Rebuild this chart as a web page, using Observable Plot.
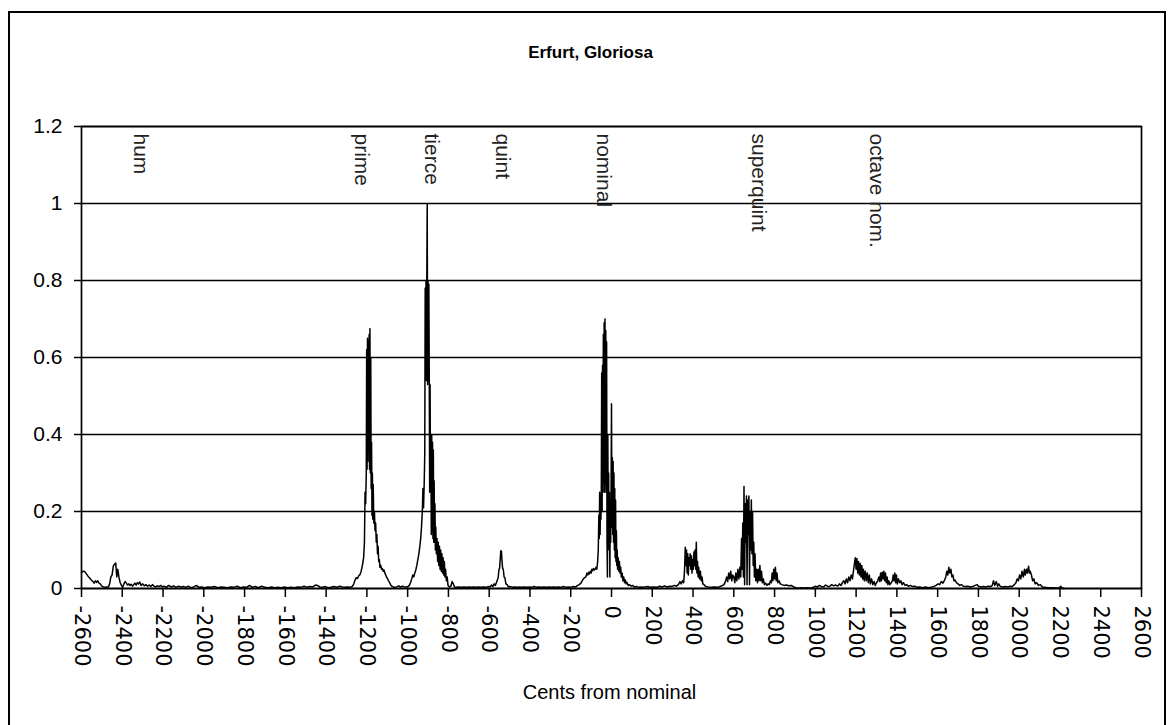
<!DOCTYPE html>
<html><head><meta charset="utf-8">
<script src="https://cdn.jsdelivr.net/npm/d3@7"></script>
<script src="https://cdn.jsdelivr.net/npm/@observablehq/plot@0.6"></script>
<style>
body{margin:0;background:#fff;}
#wrap{position:relative;width:1168px;height:725px;overflow:hidden;background:#fff;}
#wrap svg{position:absolute;left:0;top:0;}
#border{position:absolute;left:8px;top:11px;width:1158px;height:720px;border:2px solid #000;box-sizing:border-box;pointer-events:none;}
</style></head><body><div id="wrap"><div id="border"></div></div>
<script>
const title = "Erfurt, Gloriosa";
const xLabel = "Cents from nominal";
const xTicks = [-2600,-2400,-2200,-2000,-1800,-1600,-1400,-1200,-1000,-800,-600,-400,-200,0,200,400,600,800,1000,1200,1400,1600,1800,2000,2200,2400,2600];
const yTicks = [0,0.2,0.4,0.6,0.8,1,1.2];
const partialNames = ["hum","prime","tierce","quint","nominal","superquint","octave nom."];
const partialAt = [-2311,-1224,-883,-535,-39,721,1300];

// [cents, relative amplitude]
const hum = [[-2600,0.042],[-2592,0.045],[-2584,0.044],[-2576,0.038],[-2568,0.032],[-2560,0.027],[-2552,0.022],[-2544,0.018],[-2538,0.014],[-2532,0.02],[-2526,0.016],[-2520,0.02],[-2514,0.014],[-2508,0.012],[-2500,0.006],[-2492,0.004],[-2484,0.003],[-2476,0.004],[-2468,0.004],[-2462,0.012],[-2456,0.03],[-2450,0.035],[-2444,0.058],[-2438,0.063],[-2432,0.066],[-2427,0.03],[-2422,0.05],[-2416,0.028],[-2410,0.015],[-2404,0.008],[-2398,0.003],[-2392,0.012],[-2386,0.018],[-2380,0.014],[-2374,0.009],[-2368,0.012],[-2362,0.008],[-2356,0.011],[-2350,0.006],[-2344,0.01],[-2338,0.014],[-2332,0.009],[-2326,0.015],[-2320,0.012],[-2314,0.017],[-2308,0.008],[-2300,0.012],[-2292,0.007],[-2284,0.01],[-2276,0.006],[-2268,0.009],[-2260,0.005],[-2252,0.01],[-2244,0.006],[-2236,0.004],[-2228,0.007],[-2220,0.005],[-2212,0.008],[-2204,0.004]];
const low = [[-2196,0.006],[-2184,0.003],[-2172,0.008],[-2160,0.004],[-2148,0.007],[-2136,0.003],[-2124,0.006],[-2112,0.004],[-2100,0.005],[-2088,0.003],[-2076,0.006],[-2064,0.002],[-2050,0.004],[-2036,0.008],[-2024,0.003],[-2010,0.004],[-1996,0.002],[-1980,0.004],[-1964,0.003],[-1948,0.005],[-1932,0.002],[-1916,0.004],[-1900,0.003],[-1884,0.002],[-1868,0.004],[-1852,0.003],[-1836,0.006],[-1822,0.002],[-1806,0.004],[-1790,0.003],[-1776,0.008],[-1762,0.003],[-1748,0.005],[-1732,0.002],[-1716,0.006],[-1700,0.003],[-1684,0.002],[-1668,0.004],[-1652,0.002],[-1636,0.003],[-1620,0.002],[-1604,0.004],[-1588,0.002],[-1572,0.003],[-1556,0.002],[-1540,0.004],[-1524,0.003],[-1508,0.006],[-1494,0.003],[-1480,0.005],[-1466,0.004],[-1452,0.009],[-1442,0.008],[-1432,0.004],[-1418,0.003],[-1404,0.005],[-1390,0.002],[-1376,0.003],[-1362,0.005],[-1348,0.003],[-1334,0.006],[-1320,0.004],[-1308,0.003]];
const prime = [[-1296,0.004],[-1284,0.003],[-1272,0.005],[-1264,0.012],[-1258,0.022],[-1252,0.028],[-1246,0.026],[-1240,0.033],[-1234,0.036],[-1228,0.045],[-1222,0.06],[-1216,0.08],[-1212,0.12],[-1209,0.25],[-1206,0.22],[-1203,0.30],[-1201,0.62],[-1199,0.31],[-1197,0.65],[-1195,0.33],[-1193,0.64],[-1191,0.36],[-1189,0.66],[-1187,0.31],[-1185,0.675],[-1183,0.30],[-1181,0.60],[-1179,0.26],[-1177,0.38],[-1175,0.19],[-1173,0.30],[-1171,0.18],[-1169,0.27],[-1166,0.17],[-1163,0.20],[-1160,0.15],[-1157,0.17],[-1154,0.12],[-1151,0.14],[-1148,0.09],[-1145,0.11],[-1142,0.07],[-1139,0.075],[-1136,0.055],[-1132,0.06],[-1128,0.05],[-1124,0.052],[-1120,0.045],[-1116,0.048],[-1112,0.04],[-1108,0.036],[-1104,0.03],[-1099,0.026],[-1094,0.02],[-1089,0.016],[-1084,0.01],[-1076,0.005],[-1066,0.003],[-1054,0.004],[-1044,0.007],[-1036,0.004],[-1024,0.006],[-1012,0.003],[-1004,0.005]];
const tierce = [[-1000,0.004],[-992,0.008],[-986,0.015],[-980,0.025],[-975,0.035],[-970,0.03],[-965,0.04],[-960,0.048],[-955,0.06],[-950,0.075],[-945,0.09],[-940,0.11],[-936,0.13],[-932,0.16],[-928,0.20],[-925,0.26],[-922,0.21],[-919,0.27],[-916,0.35],[-914,0.78],[-912,0.56],[-910,0.80],[-908,0.54],[-906,0.81],[-904,1.0],[-902,0.53],[-900,0.80],[-898,0.54],[-896,0.79],[-894,0.55],[-892,0.25],[-890,0.53],[-888,0.27],[-886,0.40],[-884,0.14],[-882,0.40],[-880,0.15],[-878,0.38],[-876,0.13],[-874,0.36],[-872,0.12],[-870,0.28],[-868,0.12],[-866,0.22],[-864,0.10],[-862,0.16],[-859,0.09],[-856,0.13],[-853,0.07],[-850,0.12],[-847,0.06],[-844,0.11],[-841,0.05],[-838,0.10],[-835,0.045],[-832,0.09],[-829,0.04],[-826,0.08],[-823,0.035],[-820,0.07],[-817,0.03],[-814,0.05],[-810,0.02],[-806,0.03],[-802,0.008],[-795,0.004],[-788,0.006],[-782,0.018],[-776,0.012],[-770,0.004]];
const quint = [[-760,0.003],[-748,0.004],[-736,0.003],[-724,0.004],[-712,0.003],[-700,0.004],[-688,0.003],[-676,0.004],[-664,0.003],[-652,0.004],[-640,0.003],[-628,0.004],[-616,0.003],[-604,0.005],[-596,0.004],[-588,0.009],[-582,0.005],[-576,0.012],[-570,0.008],[-565,0.015],[-560,0.022],[-556,0.028],[-552,0.05],[-549,0.052],[-546,0.075],[-543,0.098],[-540,0.097],[-537,0.07],[-534,0.052],[-531,0.05],[-527,0.03],[-523,0.028],[-518,0.012],[-512,0.01],[-506,0.004],[-498,0.005],[-486,0.003],[-474,0.004],[-462,0.003],[-450,0.004]];
const nominal = [[-440,0.003],[-428,0.004],[-416,0.003],[-404,0.004],[-392,0.003],[-380,0.005],[-368,0.003],[-356,0.004],[-344,0.003],[-332,0.004],[-320,0.003],[-308,0.004],[-296,0.003],[-284,0.004],[-272,0.003],[-260,0.004],[-248,0.003],[-236,0.005],[-224,0.003],[-212,0.004],[-200,0.003],[-188,0.005],[-176,0.004],[-166,0.008],[-158,0.01],[-150,0.014],[-144,0.02],[-138,0.025],[-132,0.028],[-126,0.03],[-120,0.04],[-116,0.035],[-112,0.042],[-108,0.038],[-104,0.045],[-100,0.04],[-96,0.05],[-92,0.046],[-88,0.052],[-84,0.048],[-80,0.05],[-76,0.055],[-72,0.05],[-68,0.07],[-65,0.1],[-62,0.19],[-60,0.13],[-58,0.25],[-56,0.14],[-54,0.24],[-52,0.18],[-50,0.25],[-48,0.56],[-46,0.20],[-44,0.58],[-42,0.25],[-40,0.66],[-38,0.28],[-36,0.69],[-34,0.25],[-32,0.70],[-30,0.27],[-28,0.67],[-26,0.25],[-24,0.64],[-22,0.12],[-20,0.03],[-18,0.40],[-16,0.12],[-14,0.30],[-12,0.10],[-10,0.25],[-8,0.03],[-6,0.22],[-4,0.12],[-2,0.25],[0,0.48],[2,0.16],[4,0.34],[6,0.14],[8,0.33],[10,0.12],[12,0.30],[14,0.10],[16,0.26],[18,0.08],[20,0.23],[22,0.07],[24,0.15],[26,0.06],[28,0.10],[30,0.05],[33,0.08],[36,0.045],[39,0.07],[42,0.04],[45,0.055],[48,0.03],[52,0.04],[56,0.02],[60,0.03],[64,0.015],[68,0.022],[72,0.012],[76,0.016],[82,0.008],[88,0.01],[96,0.006],[104,0.008],[112,0.004],[122,0.005],[134,0.003],[146,0.004]];
const upper = [[160,0.003],[176,0.005],[190,0.003],[206,0.004],[222,0.003],[236,0.006],[248,0.004],[260,0.007],[272,0.004],[284,0.006],[296,0.005],[308,0.008],[318,0.006],[328,0.01],[336,0.018],[342,0.012],[348,0.02],[354,0.015],[358,0.045],[362,0.107],[365,0.06],[368,0.1],[371,0.04],[374,0.09],[377,0.035],[380,0.08],[383,0.06],[386,0.09],[389,0.05],[392,0.085],[395,0.04],[398,0.075],[401,0.05],[404,0.095],[407,0.06],[410,0.10],[413,0.05],[416,0.12],[419,0.04],[422,0.07],[425,0.03],[428,0.055],[432,0.025],[436,0.045],[440,0.02],[444,0.03],[448,0.012],[454,0.01],[462,0.005],[474,0.004],[490,0.003],[506,0.004],[522,0.003],[536,0.006],[546,0.008],[554,0.012],[560,0.02],[565,0.03],[570,0.018],[575,0.04],[580,0.025],[585,0.045],[590,0.02],[595,0.035]];
const superquint = [[600,0.03],[605,0.015],[610,0.04],[615,0.02],[620,0.05],[625,0.025],[630,0.055],[634,0.03],[638,0.13],[641,0.05],[644,0.17],[647,0.03],[650,0.265],[653,0.01],[656,0.22],[659,0.12],[662,0.24],[665,0.01],[668,0.23],[671,0.14],[674,0.24],[677,0.01],[680,0.2],[683,0.1],[686,0.23],[689,0.09],[692,0.2],[695,0.06],[698,0.12],[701,0.03],[704,0.09],[708,0.02],[712,0.05],[716,0.015],[720,0.05],[724,0.02],[728,0.06],[732,0.02],[736,0.045],[740,0.015],[745,0.025],[750,0.01],[756,0.014],[762,0.008],[768,0.012],[774,0.01],[780,0.02],[784,0.015],[788,0.04],[792,0.02],[796,0.05],[800,0.025],[804,0.055],[808,0.02],[812,0.04],[816,0.015],[822,0.02],[828,0.012],[836,0.01],[846,0.008],[858,0.009],[870,0.007],[882,0.008],[894,0.004]];
const high = [[906,0.002],[920,0.001],[934,0.002],[948,0.001],[962,0.002],[976,0.001],[990,0.003],[1000,0.006],[1010,0.004],[1020,0.008],[1030,0.005],[1040,0.004],[1050,0.009],[1060,0.006],[1070,0.005],[1080,0.01],[1090,0.007],[1100,0.009],[1110,0.006],[1118,0.012],[1126,0.008],[1134,0.016],[1140,0.02],[1146,0.012],[1152,0.025],[1158,0.015],[1164,0.03],[1170,0.02],[1176,0.035],[1182,0.025],[1188,0.05],[1192,0.065],[1196,0.08],[1200,0.05],[1204,0.078],[1208,0.04],[1212,0.07],[1216,0.035],[1220,0.065],[1224,0.03],[1228,0.06],[1232,0.025],[1236,0.05],[1240,0.02],[1245,0.045],[1250,0.02],[1255,0.04],[1260,0.015],[1265,0.035],[1270,0.012],[1276,0.025],[1282,0.01],[1288,0.018],[1294,0.008],[1300,0.015],[1306,0.02],[1312,0.03],[1316,0.018],[1320,0.04],[1324,0.02],[1328,0.042],[1332,0.025],[1336,0.045],[1340,0.02],[1344,0.04],[1348,0.015],[1352,0.03],[1356,0.01],[1360,0.02],[1366,0.01],[1372,0.015],[1378,0.02],[1382,0.035],[1386,0.02],[1390,0.04],[1394,0.015],[1398,0.035],[1402,0.012],[1408,0.025],[1414,0.015],[1420,0.02],[1426,0.01],[1432,0.015],[1440,0.008],[1448,0.01],[1456,0.006],[1466,0.008],[1476,0.005],[1488,0.006],[1500,0.003],[1512,0.004],[1526,0.002],[1540,0.004],[1554,0.002],[1568,0.003],[1580,0.005],[1592,0.008],[1602,0.012],[1610,0.01],[1618,0.018],[1626,0.014],[1634,0.022],[1640,0.03],[1645,0.045],[1650,0.035],[1655,0.055],[1660,0.04],[1665,0.05],[1670,0.03],[1675,0.035],[1680,0.02],[1686,0.022],[1692,0.015],[1700,0.012],[1708,0.008],[1716,0.01],[1726,0.006],[1736,0.005],[1748,0.006],[1760,0.004],[1772,0.005],[1784,0.008],[1794,0.01],[1800,0.006],[1812,0.004],[1824,0.005],[1836,0.004],[1848,0.006],[1860,0.005],[1868,0.008],[1874,0.02],[1880,0.008],[1888,0.018],[1894,0.006],[1900,0.012],[1908,0.005],[1920,0.004],[1932,0.005],[1944,0.004],[1956,0.006],[1966,0.005],[1976,0.01],[1984,0.015],[1990,0.025],[1996,0.02],[2002,0.035],[2008,0.025],[2014,0.045],[2020,0.03],[2026,0.05],[2030,0.035],[2036,0.05],[2040,0.04],[2046,0.058],[2050,0.04],[2054,0.045],[2060,0.035],[2066,0.02],[2072,0.025],[2078,0.012],[2086,0.015],[2094,0.008],[2104,0.01],[2114,0.004],[2126,0.003],[2140,0.002],[2160,0.002],[2180,0.001],[2196,0.002],[2204,0.006],[2208,0.002],[2220,0]];

const spectrum = [...hum, ...low, ...prime, ...tierce, ...quint, ...nominal, ...upper, ...superquint, ...high].map(([c, v]) => ({c, v}));

const sans = "'Liberation Sans', Arial, Helvetica, sans-serif";
const chart = Plot.plot({
  width: 1168,
  height: 725,
  marginLeft: 81,
  marginRight: 27,
  marginTop: 126,
  marginBottom: 137,
  style: {fontFamily: sans, fontSize: "20px", color: "#000", background: "transparent", overflow: "visible"},
  x: {domain: [-2600, 2600]},
  y: {domain: [0, 1.2]},
  marks: [
    Plot.ruleY(yTicks, {stroke: "#000", strokeWidth: 1.7}),
    Plot.line(spectrum, {x: "c", y: "v", stroke: "#000", strokeWidth: 1.5}),
    Plot.frame({stroke: "#000", strokeWidth: 1.7}),
    Plot.axisY({ticks: yTicks, tickFormat: d => String(+d.toFixed(1)), tickSize: 7, tickPadding: 12, label: null, fontSize: 21, strokeWidth: 1.5}),
    Plot.axisX({ticks: xTicks, tickFormat: d => String(d), tickRotate: 90, tickSize: 9, tickPadding: 8, label: null, fontSize: 21, fontFamily: "'DejaVu Sans', sans-serif", strokeWidth: 1.5}),
    Plot.text(partialNames, {x: partialAt, frameAnchor: "top", dy: 7, rotate: 90, textAnchor: "start", lineAnchor: "middle", fontSize: 21, fill: "#222"}),
    Plot.text([title], {frameAnchor: "top", dx: -21, dy: -81, fontWeight: "bold", fontSize: 17}),
    Plot.text([xLabel], {frameAnchor: "bottom", dx: -2, dy: 110, fontSize: 20})
  ]
});
document.getElementById("wrap").prepend(chart);
</script>
</body></html>
